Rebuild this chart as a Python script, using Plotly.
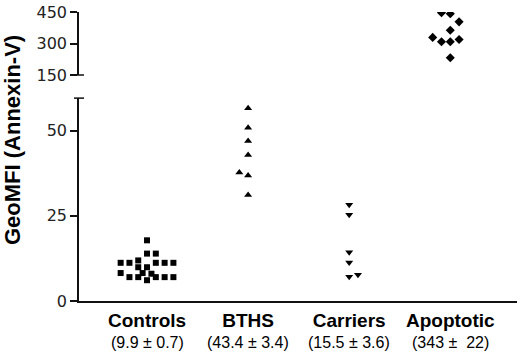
import plotly.graph_objects as go

categories = ["Controls", "BTHS", "Carriers", "Apoptotic"]
summaries = ["(9.9 ± 0.7)", "(43.4 ± 3.4)", "(15.5 ± 3.6)", "(343 ±\u00a0 22)"]

controls_vals = [17.8, 13.9, 13.9, 11.2, 11.2, 11.9, 11.2, 11.2, 11.2, 9.9, 9.9,
                 8.2, 8.2, 8.0, 7.0, 7.0, 7.0, 7.0, 7.0, 6.1]
controls_slot = [0, 0, 1, -3, -2, -1, 1, 2, 3, -1, 0, -3, -0.5, 0.5, -2, -1, 1, 2, 3, 0]

bths_vals = [56.5, 50.8, 46.9, 42.8, 37.7, 36.8, 31.1]
bths_slot = [0, 0, 0, 0, -1, 0, 0]

carriers_vals = [28.2, 25.3, 14.3, 11.3, 7.7, 7.1]
carriers_slot = [0, 0, 0, 0, 1, 0]

apoptotic_vals = [447, 442, 403, 363, 329, 308, 308, 319, 232]
apoptotic_slot = [-1, 0, 1, 0, -2, -1, 0, 1, 0]

lower_ticks = [0, 25, 50]
upper_ticks = [150, 300, 450]

STEP = 0.087


def xs(idx, slots):
    return [idx + s * STEP for s in slots]


fig = go.Figure()
fig.add_trace(go.Scatter(x=xs(0, controls_slot), y=controls_vals, mode="markers",
                         marker=dict(symbol="square", size=6, color="black"),
                         xaxis="x", yaxis="y"))
fig.add_trace(go.Scatter(x=xs(1, bths_slot), y=bths_vals, mode="markers",
                         marker=dict(symbol="triangle-up", size=7, color="black"),
                         xaxis="x", yaxis="y"))
fig.add_trace(go.Scatter(x=xs(2, carriers_slot), y=carriers_vals, mode="markers",
                         marker=dict(symbol="triangle-down", size=7, color="black"),
                         xaxis="x", yaxis="y"))
fig.add_trace(go.Scatter(x=xs(3, apoptotic_slot), y=apoptotic_vals, mode="markers",
                         marker=dict(symbol="diamond", size=7, color="black"),
                         xaxis="x", yaxis="y2"))

tickfont = dict(family="DejaVu Sans", size=16, color="#222")

fig.update_layout(
    width=520, height=363,
    margin=dict(l=79, r=3, t=12, b=62),
    paper_bgcolor="white", plot_bgcolor="white",
    showlegend=False,
    xaxis=dict(range=[-0.673, 3.66], tickvals=[0, 1, 2, 3],
               ticktext=["<b>%s</b>" % c for c in categories],
               tickfont=dict(family="Liberation Sans", size=19, color="black"),
               showgrid=False, zeroline=False, showline=True, linecolor="#111",
               linewidth=2, ticks="", anchor="y", ticklabelstandoff=1,
               automargin=False),
    yaxis=dict(domain=[0, 0.702], range=[0, 59.5], tickvals=lower_ticks,
               showgrid=False, zeroline=False, showline=True, linecolor="#111",
               linewidth=1.5, ticks="outside", ticklen=7, tickwidth=1.5,
               tickcolor="#111", tickfont=tickfont, anchor="x", automargin=False),
    yaxis2=dict(domain=[0.782, 1], range=[150, 450], tickvals=upper_ticks,
                showgrid=False, zeroline=False, showline=True, linecolor="#111",
                linewidth=1.5, ticks="outside", ticklen=7, tickwidth=1.5,
                tickcolor="#111", tickfont=tickfont, anchor="x", automargin=False),
)

# axis-break caps
for ref, yv in (("y domain", 1), ("y2 domain", 0)):
    fig.add_shape(type="line", xref="paper", yref=ref,
                  x0=-5 / 438, x1=5 / 438, y0=yv, y1=yv,
                  line=dict(color="#111", width=1.5))

# summary lines under categories
for i, s in enumerate(summaries):
    fig.add_annotation(x=i, y=-0.144, xref="x", yref="paper", text=s,
                       showarrow=False, yanchor="middle",
                       font=dict(family="Liberation Sans", size=16, color="black"))

fig.add_annotation(x=-0.153, y=0.557, xref="paper", yref="paper",
                   text="<b>GeoMFI (Annexin-V)</b>", textangle=-90,
                   showarrow=False, xanchor="center", yanchor="middle",
                   font=dict(family="Liberation Sans", size=22, color="black"))

fig.write_html("out.html", config={"displayModeBar": False},
               post_script="document.body.style.margin='0';")
